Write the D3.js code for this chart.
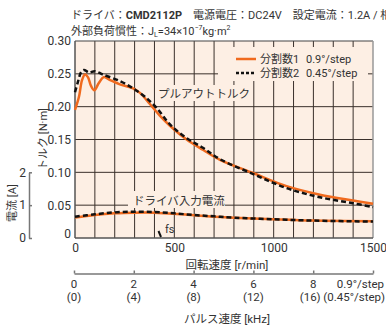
<!DOCTYPE html>
<html>
<head>
<meta charset="utf-8">
<script src="https://cdn.jsdelivr.net/npm/d3@7"></script>
<style>
  body { margin: 0; background: #fff; }
  svg { display: block; }
  text { font-family: Roboto, "Noto Sans CJK JP", sans-serif; fill: #333; font-size: 11px; }
</style>
</head>
<body>
<script>
// pull-out torque, division 1 (0.9°/step) – speed [r/min] / torque [N·m]
const speed1 = [0, 20, 35, 50, 65, 80, 97, 120, 145, 180, 226, 292, 327, 377, 428, 478, 562, 646, 730, 896, 1065, 1233, 1400, 1500];
const torque1 = [0.195, 0.215, 0.240, 0.249, 0.245, 0.232, 0.225, 0.236, 0.245, 0.240, 0.234, 0.228, 0.221, 0.204, 0.186, 0.171, 0.150, 0.134, 0.119, 0.099, 0.079, 0.066, 0.057, 0.052];

// pull-out torque, division 2 (0.45°/step)
const speed2 = [0, 15, 30, 45, 70, 100, 140, 226, 292, 352, 411, 478, 562, 646, 730, 900, 1065, 1233, 1400, 1500];
const torque2 = [0.222, 0.238, 0.252, 0.256, 0.252, 0.254, 0.249, 0.239, 0.228, 0.215, 0.198, 0.173, 0.152, 0.137, 0.120, 0.097, 0.076, 0.062, 0.053, 0.047];

// driver input current [A]
const currSpeed = [0, 100, 200, 300, 400, 500, 600, 700, 800, 1000, 1200, 1500];
const current1 = [0.62, 0.70, 0.75, 0.77, 0.77, 0.74, 0.69, 0.65, 0.62, 0.57, 0.53, 0.51];
const current2 = [0.65, 0.72, 0.78, 0.80, 0.79, 0.75, 0.70, 0.66, 0.62, 0.57, 0.53, 0.50];

// tick labels
const torqueTicks = [0, 0.05, 0.10, 0.15, 0.20, 0.25, 0.30];
const currentTicks = [0, 1, 2];
const speedTicks = [0, 500, 1000, 1500];
const pulseTicks = [0, 2, 4, 6, 8, 10];
const pulseLabels1 = ["0", "2", "4", "6", "8", "0.9°/step"];
const pulseLabels2 = ["(0)", "(4)", "(8)", "(12)", "(16)", "(0.45°/step)"];

const orange = "#f06a1e";
const bg = "#fdefe4";
const gridColor = "#3a302b";

const svg = d3.select("body").append("svg")
  .attr("width", 386)
  .attr("height", 326);

const x = d3.scaleLinear().domain([0, 1500]).range([75, 373]);
const yT = d3.scaleLinear().domain([0, 0.30]).range([238, 41]);
const yA = d3.scaleLinear().domain([0, 2]).range([238, 172.3]);
const xP = d3.scaleLinear().domain([0, 10]).range([74, 373]);

// title
const t1 = svg.append("text").attr("x", 71).attr("y", 19);
t1.append("tspan").text("ドライバ：");
t1.append("tspan").style("font-weight", "bold").text("CMD2112P");
t1.append("tspan").text("　電源電圧：DC24V　設定電流：1.2A / 相");

const t2 = svg.append("text").attr("x", 71).attr("y", 35);
t2.append("tspan").text("外部負荷慣性：J");
t2.append("tspan").attr("dy", 2).style("font-size", "7px").text("L");
t2.append("tspan").attr("dy", -2).text("=34×10");
t2.append("tspan").attr("dy", -5).style("font-size", "7px").text("−7");
t2.append("tspan").attr("dy", 5).text("kg·m");
t2.append("tspan").attr("dy", -5).style("font-size", "7px").text("2");

// plot background
svg.append("rect")
  .attr("x", x(0)).attr("y", yT(0.30))
  .attr("width", x(1500) - x(0)).attr("height", yT(0) - yT(0.30))
  .attr("fill", bg);

// grid
svg.append("g").selectAll("line")
  .data(d3.range(100, 1500, 100))
  .join("line")
  .attr("x1", d => x(d)).attr("x2", d => x(d))
  .attr("y1", yT(0.30)).attr("y2", yT(0))
  .attr("stroke", gridColor).attr("stroke-width", 1);

svg.append("g").selectAll("line")
  .data(torqueTicks.slice(1, -1))
  .join("line")
  .attr("x1", x(0)).attr("x2", x(1500))
  .attr("y1", d => yT(d)).attr("y2", d => yT(d))
  .attr("stroke", gridColor).attr("stroke-width", 1);

// frame
svg.append("line").attr("x1", x(0)).attr("x2", x(1500)).attr("y1", yT(0.30)).attr("y2", yT(0.30))
  .attr("stroke", "#444").attr("stroke-width", 1.2);
svg.append("line").attr("x1", x(1500)).attr("x2", x(1500)).attr("y1", yT(0.30)).attr("y2", yT(0))
  .attr("stroke", "#999").attr("stroke-width", 1.5);
svg.append("line").attr("x1", x(0)).attr("x2", x(0)).attr("y1", yT(0.30)).attr("y2", yT(0))
  .attr("stroke", "#555").attr("stroke-width", 1.5);
svg.append("line").attr("x1", x(0)).attr("x2", x(1500)).attr("y1", yT(0)).attr("y2", yT(0))
  .attr("stroke", "#555").attr("stroke-width", 1.5);

// label boxes (cover grid)
svg.append("rect").attr("x", 218).attr("y", 47).attr("width", 150).attr("height", 34).attr("fill", bg);
svg.append("rect").attr("x", 156).attr("y", 85).attr("width", 86).attr("height", 16).attr("fill", bg);
svg.append("rect").attr("x", 128).attr("y", 191).attr("width", 97).attr("height", 17).attr("fill", bg);

svg.append("text").attr("x", 158).attr("y", 98).style("font-size", "11.5px").text("プルアウトトルク");
svg.append("text").attr("x", 133).attr("y", 205).style("font-size", "11.5px").text("ドライバ入力電流");

// legend
svg.append("line").attr("x1", 236).attr("x2", 256).attr("y1", 59).attr("y2", 59)
  .attr("stroke", orange).attr("stroke-width", 2.5);
svg.append("line").attr("x1", 236).attr("x2", 256).attr("y1", 73).attr("y2", 73)
  .attr("stroke", "#111").attr("stroke-width", 2.5).attr("stroke-dasharray", "3,2");
svg.append("text").attr("x", 260).attr("y", 63).text("分割数1");
svg.append("text").attr("x", 306).attr("y", 63).text("0.9°/step");
svg.append("text").attr("x", 260).attr("y", 77).text("分割数2");
svg.append("text").attr("x", 306).attr("y", 77).text("0.45°/step");

// curves
const torqueLine = d3.line().x(d => x(d[0])).y(d => yT(d[1])).curve(d3.curveCatmullRom);
const currentLine = d3.line().x(d => x(d[0])).y(d => yA(d[1])).curve(d3.curveCatmullRom);

svg.append("path").datum(d3.zip(speed1, torque1)).attr("d", torqueLine)
  .attr("fill", "none").attr("stroke", orange).attr("stroke-width", 2.5);
svg.append("path").datum(d3.zip(currSpeed, current1)).attr("d", currentLine)
  .attr("fill", "none").attr("stroke", orange).attr("stroke-width", 2.5);
svg.append("path").datum(d3.zip(speed2, torque2)).attr("d", torqueLine)
  .attr("fill", "none").attr("stroke", "#111").attr("stroke-width", 2.5).attr("stroke-dasharray", "5,3");
svg.append("path").datum(d3.zip(currSpeed, current2)).attr("d", currentLine)
  .attr("fill", "none").attr("stroke", "#111").attr("stroke-width", 2.5).attr("stroke-dasharray", "5,3");

// fs marker
svg.append("line").attr("x1", 158.5).attr("y1", 231).attr("x2", 161).attr("y2", 237)
  .attr("stroke", "#111").attr("stroke-width", 2);
svg.append("text").attr("x", 165).attr("y", 233).text("fs");

// torque axis labels
const gT = svg.append("g").attr("transform", `translate(${x(0)},0)`)
  .call(d3.axisLeft(yT).tickValues(torqueTicks).tickSize(0).tickPadding(4)
    .tickFormat(d => d === 0 ? "0" : d3.format(".2f")(d)));
gT.select(".domain").remove();
gT.selectAll("text").style("font-size", "12px").style("fill", "#333")
  .attr("dy", d => d === 0 ? "-0.05em" : "0.32em")
  .style("font-family", null);

svg.append("text")
  .attr("transform", "translate(47,139) rotate(-90)")
  .attr("text-anchor", "middle")
  .text("トルク [N·m]");

// current axis
const gA = svg.append("g").attr("transform", "translate(29,0)")
  .call(d3.axisRight(yA).tickValues(currentTicks).tickSize(3).tickSizeOuter(0).tickFormat(""));
gA.select(".domain").attr("stroke", "#777").attr("stroke-width", 1.5);
gA.selectAll(".tick line").attr("stroke", "#777").attr("stroke-width", 1.5);
svg.append("g").selectAll("text")
  .data(currentTicks)
  .join("text")
  .attr("x", 26).attr("y", d => yA(d)).attr("dy", "0.35em")
  .attr("text-anchor", "end").style("font-size", "12px")
  .text(d => d);

svg.append("text")
  .attr("transform", "translate(16,203) rotate(-90)")
  .attr("text-anchor", "middle")
  .text("電流 [A]");

// speed axis labels
const gX = svg.append("g").attr("transform", `translate(0,${yT(0)})`)
  .call(d3.axisBottom(x).tickValues(speedTicks).tickSize(0).tickPadding(5).tickFormat(d3.format("d")));
gX.select(".domain").remove();
gX.selectAll("text").style("font-size", "12px").style("fill", "#333").style("font-family", null);

svg.append("text").attr("x", 227).attr("y", 269).attr("text-anchor", "middle")
  .style("font-size", "11.5px").text("回転速度 [r/min]");

// pulse speed axis
const gP = svg.append("g").attr("transform", "translate(0,273.5)")
  .call(d3.axisTop(xP).tickValues(pulseTicks).tickSize(3).tickSizeOuter(0).tickFormat(""));
gP.select(".domain").attr("stroke", "#777").attr("stroke-width", 1.5);
gP.selectAll(".tick line").attr("stroke", "#777").attr("stroke-width", 1.5);

svg.append("g").selectAll("text")
  .data(pulseTicks)
  .join("text")
  .attr("x", (d, i) => i === pulseTicks.length - 1 ? 384 : xP(d))
  .attr("y", 288)
  .attr("text-anchor", (d, i) => i === pulseTicks.length - 1 ? "end" : "middle")
  .style("font-size", "11.5px")
  .text((d, i) => pulseLabels1[i]);

svg.append("g").selectAll("text")
  .data(pulseTicks)
  .join("text")
  .attr("x", (d, i) => i === pulseTicks.length - 1 ? 385 : (i === 4 ? xP(d) - 3 : xP(d)))
  .attr("y", 301)
  .attr("text-anchor", (d, i) => i === pulseTicks.length - 1 ? "end" : "middle")
  .style("font-size", "11.5px")
  .text((d, i) => pulseLabels2[i]);

svg.append("text").attr("x", 227).attr("y", 323).attr("text-anchor", "middle")
  .style("font-size", "11.5px").text("パルス速度 [kHz]");
</script>
</body>
</html>
